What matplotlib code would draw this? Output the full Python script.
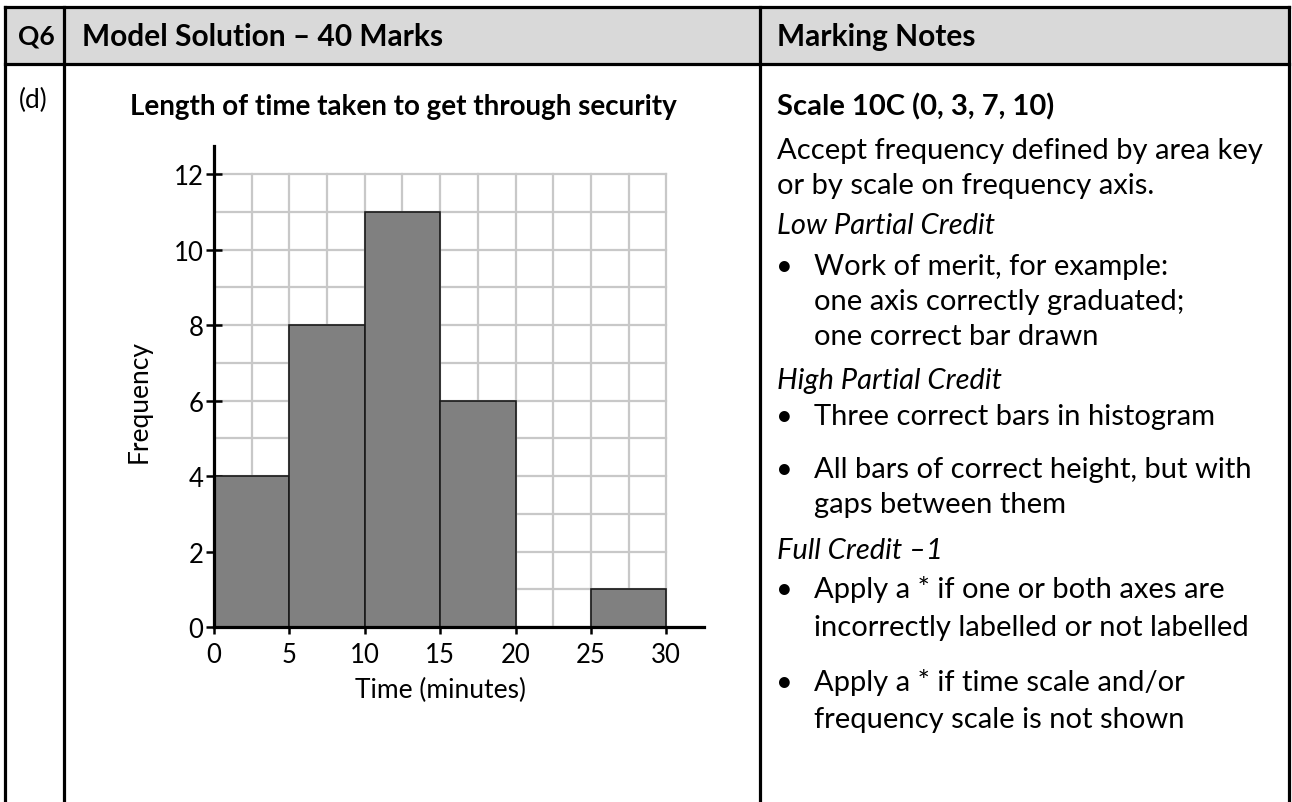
import numpy as np
import matplotlib.pyplot as plt
from matplotlib.patches import Rectangle
from matplotlib.lines import Line2D

plt.rcParams['font.family'] = ['Lato', 'DejaVu Sans']

# histogram data
bin_edges = [0, 5, 10, 15, 20, 25, 30]
freqs = [4, 8, 11, 6, 0, 1]
x_ticks = [0, 5, 10, 15, 20, 25, 30]
y_ticks = [0, 2, 4, 6, 8, 10, 12]

title = 'Length of time taken to get through security'
x_label = 'Time (minutes)'
y_label = 'Frequency'

header = ['Q6', 'Model Solution \u2013 40 Marks', 'Marking Notes']
part = '(d)'

# marking notes: (text, style, bullet)
notes = [
    ('Scale 10C (0, 3, 7, 10)', 'bold', False),
    ('Accept frequency defined by area key', 'normal', False),
    ('or by scale on frequency axis.', 'normal', False),
    ('Low Partial Credit', 'italic', False),
    ('Work of merit, for example:', 'normal', True),
    ('one axis correctly graduated;', 'normal', False),
    ('one correct bar drawn', 'normal', False),
    ('High Partial Credit', 'italic', False),
    ('Three correct bars in histogram', 'normal', True),
    ('All bars of correct height, but with', 'normal', True),
    ('gaps between them', 'normal', False),
    ('Full Credit \u20131', 'italic', False),
    ('Apply a * if one or both axes are', 'normal', True),
    ('incorrectly labelled or not labelled', 'normal', False),
    ('Apply a * if time scale and/or', 'normal', True),
    ('frequency scale is not shown', 'normal', False),
]
note_y = [107, 151, 186, 226, 267, 302, 337, 381, 417, 470, 505, 551, 590, 628, 683, 720]
indented = [False, False, False, False, True, True, True, False, True, True, True, False, True, True, True, True]

W, H = 1292, 803
fig = plt.figure(figsize=(W / 100, H / 100), dpi=100)

# table layer in pixel coordinates
bg = fig.add_axes([0, 0, 1, 1])
bg.set_xlim(0, W)
bg.set_ylim(H, 0)
bg.axis('off')

bg.add_patch(Rectangle((5, 8), 1284, 57, facecolor='#d9d9d9', edgecolor='none'))
lw = 2.3
for y in [8, 65]:
    bg.add_line(Line2D([5, 1289], [y, y], color='black', lw=lw))
for x in [5, 64, 760, 1289]:
    bg.add_line(Line2D([x, x], [8, H], color='black', lw=lw))

fs = 21
bg.text(36, 37, header[0], fontsize=19, fontweight='bold', va='center', ha='center')
bg.text(82, 37, header[1], fontsize=21.5, fontweight='bold', va='center')
bg.text(777, 37, header[2], fontsize=21.5, fontweight='bold', va='center')
bg.text(33, 100, part, fontsize=19, va='center', ha='center')
bg.text(403, 107, title, fontsize=20, fontweight='bold', va='center', ha='center')

for (txt, style, bullet), y, ind in zip(notes, note_y, indented):
    x0 = 814 if ind else 777
    kw = {}
    if style == 'bold':
        kw['fontweight'] = 'bold'
    elif style == 'italic':
        kw['fontstyle'] = 'italic'
    bg.text(x0, y, txt, fontsize=fs, va='center', **kw)
    if bullet:
        bg.text(784, y, '\u2022', fontsize=fs, va='center', ha='center')

# histogram axes
ax = fig.add_axes([214 / W, 1 - 628 / H, 490 / W, 481 / H])
ax.set_xlim(0, 32.5)
ax.set_ylim(0, 12.75)

# grid squares of 2.5 by 1 over the graph area
for gx in np.arange(0, 30.01, 2.5):
    ax.plot([gx, gx], [0, 12], color='#c8c8c8', lw=1.6, zorder=1)
for gy in range(0, 13):
    ax.plot([0, 30], [gy, gy], color='#c8c8c8', lw=1.6, zorder=1)

ax.bar(bin_edges[:-1], freqs, width=np.diff(bin_edges), align='edge',
       color='#808080', edgecolor='#1a1a1a', linewidth=1.2, zorder=2)

for s in ['top', 'right']:
    ax.spines[s].set_visible(False)
for s in ['left', 'bottom']:
    ax.spines[s].set_linewidth(2.3)
    ax.spines[s].set_zorder(3)

ax.set_xticks(x_ticks)
ax.set_yticks(y_ticks)
ax.tick_params(axis='x', direction='out', length=5, width=1.8, labelsize=18.5, pad=6)
ax.tick_params(axis='y', direction='inout', length=11, width=1.8, labelsize=18.5, pad=2)
ax.set_facecolor('none')

ax.set_xlabel(x_label, fontsize=19)
ax.set_ylabel(y_label, fontsize=19)
ax.xaxis.set_label_coords(15 / 32.5, -(690 - 628) / 481, transform=ax.transAxes)
ax.yaxis.set_label_coords(-(214 - 139) / 490, 6 / 12.75, transform=ax.transAxes)
ax.xaxis.label.set_va('center')
ax.yaxis.label.set_va('center')

fig.savefig('out.png', dpi=100)
